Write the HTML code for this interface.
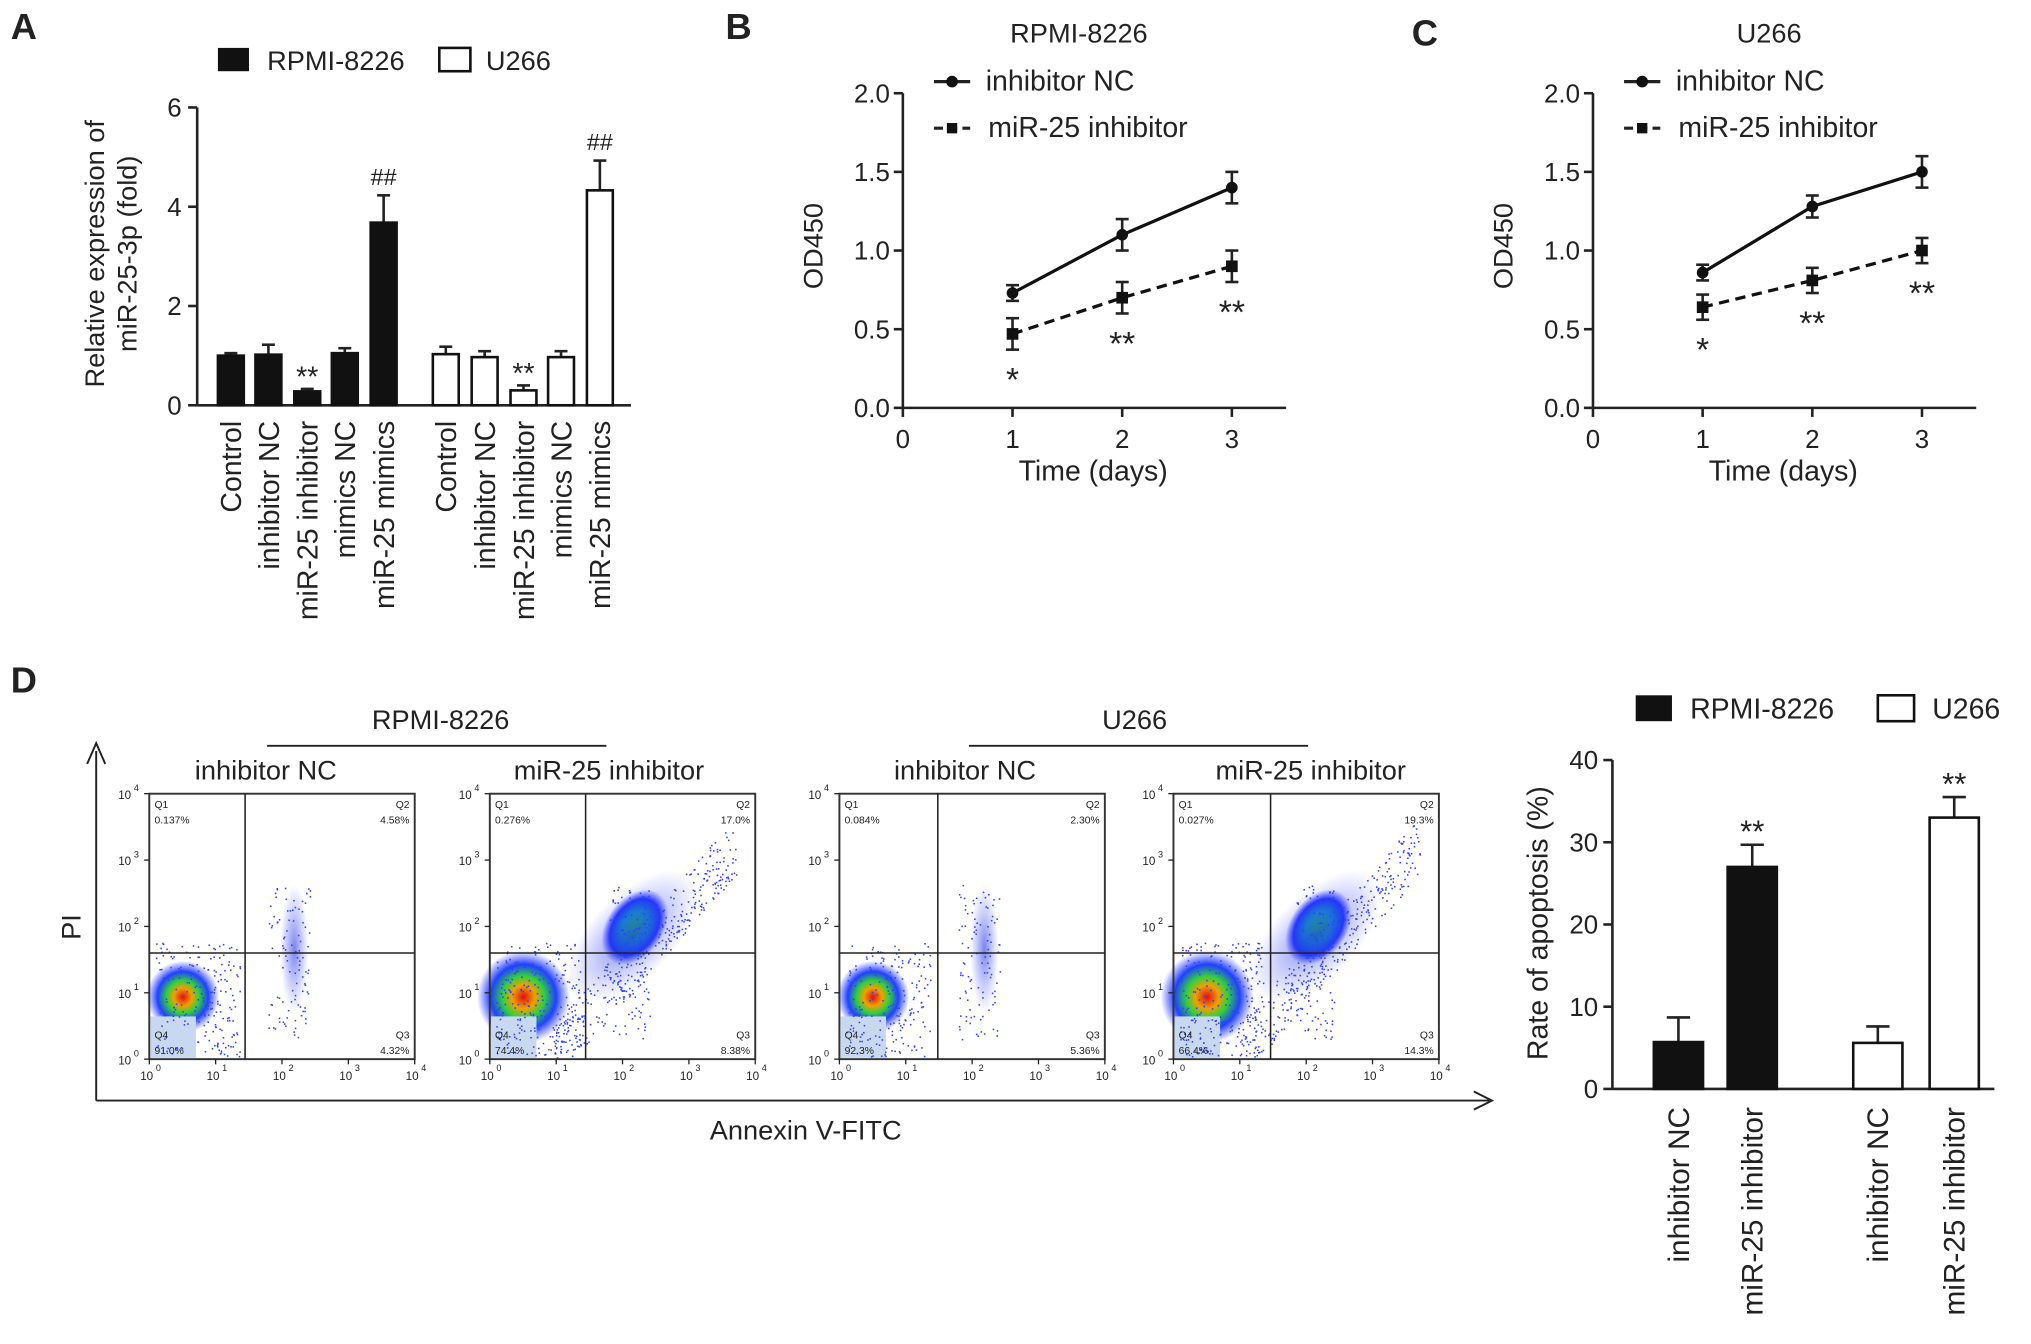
<!DOCTYPE html>
<html><head><meta charset="utf-8"><style>
html,body{margin:0;padding:0;background:#fff}
svg{display:block;font-family:"Liberation Sans",Arial,sans-serif}
</style></head><body>
<svg id="fig" width="2031" height="1344" viewBox="0 0 1568 1038" xmlns="http://www.w3.org/2000/svg">
<defs>
<radialGradient id="heat" cx="50%" cy="50%" r="50%">
<stop offset="0" stop-color="#e01010"/><stop offset="0.25" stop-color="#f0a000"/><stop offset="0.45" stop-color="#30d040"/><stop offset="0.7" stop-color="#2040ff"/><stop offset="1" stop-color="#3040ff" stop-opacity="0"/>
</radialGradient>
<radialGradient id="heat2" cx="50%" cy="50%" r="50%">
<stop offset="0" stop-color="#20d050"/><stop offset="0.4" stop-color="#10a0c0"/><stop offset="0.75" stop-color="#2030ff"/><stop offset="1" stop-color="#3040ff" stop-opacity="0"/>
</radialGradient>
<radialGradient id="blue" cx="50%" cy="50%" r="50%">
<stop offset="0" stop-color="#2030e0" stop-opacity="0.6"/><stop offset="1" stop-color="#4050ff" stop-opacity="0"/>
</radialGradient>
</defs>
<g id="root"></g>
</svg>
<script>
// ---- Panel A data
const aCats=["Control","inhibitor NC","miR-25 inhibitor","mimics NC","miR-25 mimics"];
const aRPMI=[1.0,1.02,0.28,1.05,3.68];
const aRPMIerr=[0.05,0.2,0.05,0.1,0.55];
const aU266=[1.03,0.97,0.3,0.97,4.33];
const aU266err=[0.15,0.12,0.1,0.12,0.6];
const aTicks=[0,2,4,6];
// ---- Panel B/C data
const days=[1,2,3];
const bNC=[0.73,1.1,1.4]; const bNCerr=[0.05,0.1,0.1];
const bInh=[0.47,0.7,0.9]; const bInhErr=[0.1,0.1,0.1];
const bStars=["*","**","**"];
const cNC=[0.86,1.28,1.5]; const cNCerr=[0.05,0.07,0.1];
const cInh=[0.64,0.81,1.0]; const cInhErr=[0.08,0.08,0.08];
const cStars=["*","**","**"];
const odTicks=[0,0.5,1.0,1.5,2.0];
const dayTicks=[0,1,2,3];
// ---- Panel D data
const dCats=["inhibitor NC","miR-25 inhibitor","inhibitor NC","miR-25 inhibitor"];
const dVals=[5.7,27,5.6,33];
const dErr=[3,2.7,2,2.5];
const dTicks=[0,10,20,30,40];
const flowQ=[["0.137%","4.58%","4.32%","91.0%"],["0.276%","17.0%","8.38%","74.4%"],["0.084%","2.30%","5.36%","92.3%"],["0.027%","19.3%","14.3%","66.4%"]];

const NS="http://www.w3.org/2000/svg";
const root=document.getElementById('root');
function el(tag,attrs,parent,txt){const e=document.createElementNS(NS,tag);for(const k in attrs)e.setAttribute(k,attrs[k]);if(txt!==undefined)e.textContent=txt;(parent||root).appendChild(e);return e;}
function line(x1,y1,x2,y2,p,w,dash){return el('line',{x1,y1,x2,y2,stroke:'#222','stroke-width':w||2,'stroke-dasharray':dash||'none'},p);}
function text(x,y,s,size,p,anchor,extra){const t=el('text',Object.assign({x,y,'font-size':size,'text-anchor':anchor||'middle',fill:'#222'},extra||{}),p,s);return t;}

[["A",8,30],["B",560,30],["C",1090,35],["D",8,535]].forEach(([l,x,y])=>{const t=text(x,y,l,28,root,'start',{'font-weight':'bold'});});

// ===== Panel A
(function(){
const g=el('g',{});
const x0=152,yb=313,yt=83,ymax=6;const Y=v=>yb-(yb-yt)*v/ymax;
line(x0,yt,x0,yb,g);line(x0,yb,487,yb,g);
aTicks.forEach(t=>{line(x0-7,Y(t),x0,Y(t),g);const tt=text(x0-12,Y(t)+7,String(t),20,g,'end');});
const yl=text(0,0,"Relative expression of",21,g,'middle',{transform:`translate(80,196) rotate(-90)`});
text(0,0,"miR-25-3p (fold)",21,g,'middle',{transform:`translate(105,196) rotate(-90)`});
const cx1=[178,207,237,266,296],cx2=[344,374,404,433,463];const bw=20;
function bars(vals,errs,cxs,fill,name){vals.forEach((v,i)=>{const cx=cxs[i];
line(cx,Y(v+errs[i]),cx,Y(v),g,2);line(cx-5,Y(v+errs[i]),cx+5,Y(v+errs[i]),g,2);
const r=el('rect',{x:cx-bw/2,y:Y(v),width:bw,height:yb-Y(v),fill,stroke:'#111','stroke-width':2},g);
const lb=text(0,0,aCats[i],22,g,'end',{transform:`translate(${cx+8},${yb+12}) rotate(-90)`});
if(i===2)text(cx,Y(v+errs[i])-2,"**",22,g);if(i===4)text(cx,Y(v+errs[i])-8,"##",18,g);});}
bars(aRPMI,aRPMIerr,cx1,'#111','rpmi');bars(aU266,aU266err,cx2,'#fff','u266');
const lg=el('g',{},g);
el('rect',{x:168,y:37,width:24,height:18,fill:'#111'},lg);text(206,54,"RPMI-8226",21,lg,'start');
el('rect',{x:339,y:37,width:24,height:18,fill:'#fff',stroke:'#111','stroke-width':2},lg);text(375,54,"U266",21,lg,'start');
})();

// ===== Panels B & C
function linePanel(x0,title,nc,ncE,inh,inhE,stars,name){
const g=el('g',{});
const yb=315,yt=72;const Y=v=>yb-(yb-yt)*v/2.0;const X=d=>x0+85*d-(d>0?0.3*d:0);const xEnd=x0+296;
line(x0,yt,x0,yb,g);line(x0,yb,xEnd,yb,g);
odTicks.forEach(t=>{line(x0-7,Y(t),x0,Y(t),g);text(x0-10,Y(t)+7,t.toFixed(1),20,g,'end');});
dayTicks.forEach(d=>{line(X(d),yb,X(d),yb+7,g);text(X(d),yb+31,String(d),20,g);});
const tt=text(x0+136,33,title,21,g);
text(0,0,"OD450",21,g,'middle',{transform:`translate(${x0-62},190) rotate(-90)`});
text(x0+147,371,"Time (days)",22,g);
function series(v,e,dash,mk,nm){let pts=days.map((d,i)=>X(d)+','+Y(v[i])).join(' ');
const pl=el('polyline',{points:pts,fill:'none',stroke:'#111','stroke-width':2.5,'stroke-dasharray':dash},g);
days.forEach((d,i)=>{const x=X(d);line(x,Y(v[i]+e[i]),x,Y(v[i]-e[i]),g,2);line(x-5,Y(v[i]+e[i]),x+5,Y(v[i]+e[i]),g,2);line(x-5,Y(v[i]-e[i]),x+5,Y(v[i]-e[i]),g,2);
let m;if(mk==='c')m=el('circle',{cx:x,cy:Y(v[i]),r:4.5,fill:'#111'},g);else m=el('rect',{x:x-4.5,y:Y(v[i])-4.5,width:9,height:9,fill:'#111'},g);});}
series(nc,ncE,'none','c','inhibitor-nc');series(inh,inhE,'8,5','s','mir25-inhibitor');
days.forEach((d,i)=>{text(X(d),Y(inh[i]-inhE[i])+(i===0?32:32),stars[i],26,g);});
const lg=el('g',{},g);
line(x0+24,63,x0+52,63,lg,2.5);el('circle',{cx:x0+38,cy:63,r:4.5,fill:'#111'},lg);text(x0+64,70,"inhibitor NC",22,lg,'start');
line(x0+24,99,x0+52,99,lg,2.5,'7,4');el('rect',{x:x0+34,y:95,width:8,height:8,fill:'#111'},lg);text(x0+66,106,"miR-25 inhibitor",22,lg,'start');
}
linePanel(697,"RPMI-8226",bNC,bNCerr,bInh,bInhErr,bStars,'panel-b-line-chart');
linePanel(1230,"U266",cNC,cNCerr,cInh,cInhErr,cStars,'panel-c-line-chart');

// ===== Panel D flow plots
(function(){
const g=el('g',{});
line(74,580,74,850,g,1.5);el('polyline',{points:'67,590 74,574 81,590',fill:'none',stroke:'#222','stroke-width':1.5},g);
line(74,850,1150,850,g,1.5);el('polyline',{points:'1138,843 1152,850 1138,857',fill:'none',stroke:'#222','stroke-width':1.5},g);
text(0,0,"PI",21,g,'middle',{transform:'translate(62,716) rotate(-90)'});
text(622,880,"Annexin V-FITC",21,g);
line(206,576,468,576,g,1.5);text(340,563,"RPMI-8226",21,g);
line(748,576,1010,576,g,1.5);text(876,563,"U266",21,g);
const px=[115,378,648,906],gate=[189,452,724,981],titles=["inhibitor NC","miR-25 inhibitor","inhibitor NC","miR-25 inhibitor"],tx=[205,470,745,1012];
let seed=7;const rnd=()=>{seed=(seed*16807)%2147483647;return seed/2147483647;};
px.forEach((x,k)=>{const y=613,w=205,h=205,hy=736;
const sub=el('g',{},g);
text(tx[k],602,titles[k],21,sub);
const apo=(k===1||k===3);
el('ellipse',{cx:x+26,cy:y+157,rx:apo?36:28,ry:apo?36:28,fill:'url(#heat)'},sub);
el('rect',{x:x+1,y:y+172,width:35,height:32,fill:'#c8d8f0'},sub);
if(apo){el('ellipse',{cx:x+112,cy:y+103,rx:22,ry:32,fill:'url(#heat2)',transform:`rotate(35 ${x+112} ${y+103})`},sub);
el('ellipse',{cx:x+110,cy:y+110,rx:65,ry:32,fill:'url(#blue)',transform:`rotate(-45 ${x+110} ${y+110})`},sub);}
else{el('ellipse',{cx:x+112,cy:y+120,rx:11,ry:50,fill:'url(#blue)'},sub);}
for(let i=0;i<(apo?700:300);i++){const a=rnd(),b=rnd();let cx,cy;
if(apo&&i%2){cx=x+50+140*a;cy=y+200-160*a+45*(b-0.5);}else if(i%3===0){cx=x+108+20*(a-0.5)*1.6;cy=y+70+120*b;}else{cx=x+5+65*a;cy=y+115+88*b;}
if(cx<x+w&&cy<y+h&&cx>x&&cy>y)el('rect',{x:cx,y:cy,width:1.2,height:1.2,fill:'#3040ff'},sub);}
el('rect',{x,y,width:w,height:h,fill:'none',stroke:'#333','stroke-width':1.5},sub);
line(gate[k],y,gate[k],y+h,sub,1.2);line(x,hy,x+w,hy,sub,1.2);
const q=flowQ[k];
text(x+4,y+11,"Q1",8,sub,'start');text(x+4,y+23,q[0],8,sub,'start');
text(x+w-4,y+11,"Q2",8,sub,'end');text(x+w-4,y+23,q[1],8,sub,'end');
text(x+4,y+h-16,"Q4",8,sub,'start');text(x+4,y+h-4,q[3],8,sub,'start');
text(x+w-4,y+h-16,"Q3",8,sub,'end');text(x+w-4,y+h-4,q[2],8,sub,'end');
[0,1,2,3,4].forEach(i=>{const ty=y+h-i*h/4;line(x-4,ty,x,ty,sub,1);text(x-14,ty+4,"10",9,sub,'end');text(x-8,ty-2,String(i),7,sub,'end');
const tx2=x+i*w/4;line(tx2,y+h,tx2,y+h+4,sub,1);text(tx2-2,y+h+16,"10",9,sub,'middle');text(tx2+7,y+h+9,String(i),7,sub,'middle');});
});
})();

// ===== Panel D bar chart
(function(){
const g=el('g',{});
const x0=1245,yb=841,yt=587;const Y=v=>yb-(yb-yt)*v/40;
line(x0,yt,x0,yb,g);line(x0,yb,1540,yb,g);
dTicks.forEach(t=>{line(x0-7,Y(t),x0,Y(t),g);text(x0-11,Y(t)+7,String(t),20,g,'end');});
text(0,0,"Rate of apoptosis (%)",22,g,'middle',{transform:'translate(1195,713) rotate(-90)'});
const cxs=[1296,1353,1450,1509],fills=['#111','#111','#fff','#fff'],bw=38;
dVals.forEach((v,i)=>{const cx=cxs[i];line(cx,Y(v+dErr[i]),cx,Y(v),g,2);line(cx-9,Y(v+dErr[i]),cx+9,Y(v+dErr[i]),g,2);
const r=el('rect',{x:cx-bw/2,y:Y(v),width:bw,height:yb-Y(v),fill:fills[i],stroke:'#111','stroke-width':2},g);

if(i===1||i===3)text(cx,Y(v+dErr[i])-2,"**",24,g);
text(0,0,dCats[i],23,g,'end',{transform:`translate(${cx+8},${yb+14}) rotate(-90)`});});
const lg=el('g',{},g);
el('rect',{x:1263,y:537,width:28,height:20,fill:'#111'},lg);text(1305,555,"RPMI-8226",22,lg,'start');
el('rect',{x:1450,y:537,width:28,height:20,fill:'#fff',stroke:'#111','stroke-width':2},lg);text(1492,555,"U266",22,lg,'start');
})();
</script>
</body></html>
